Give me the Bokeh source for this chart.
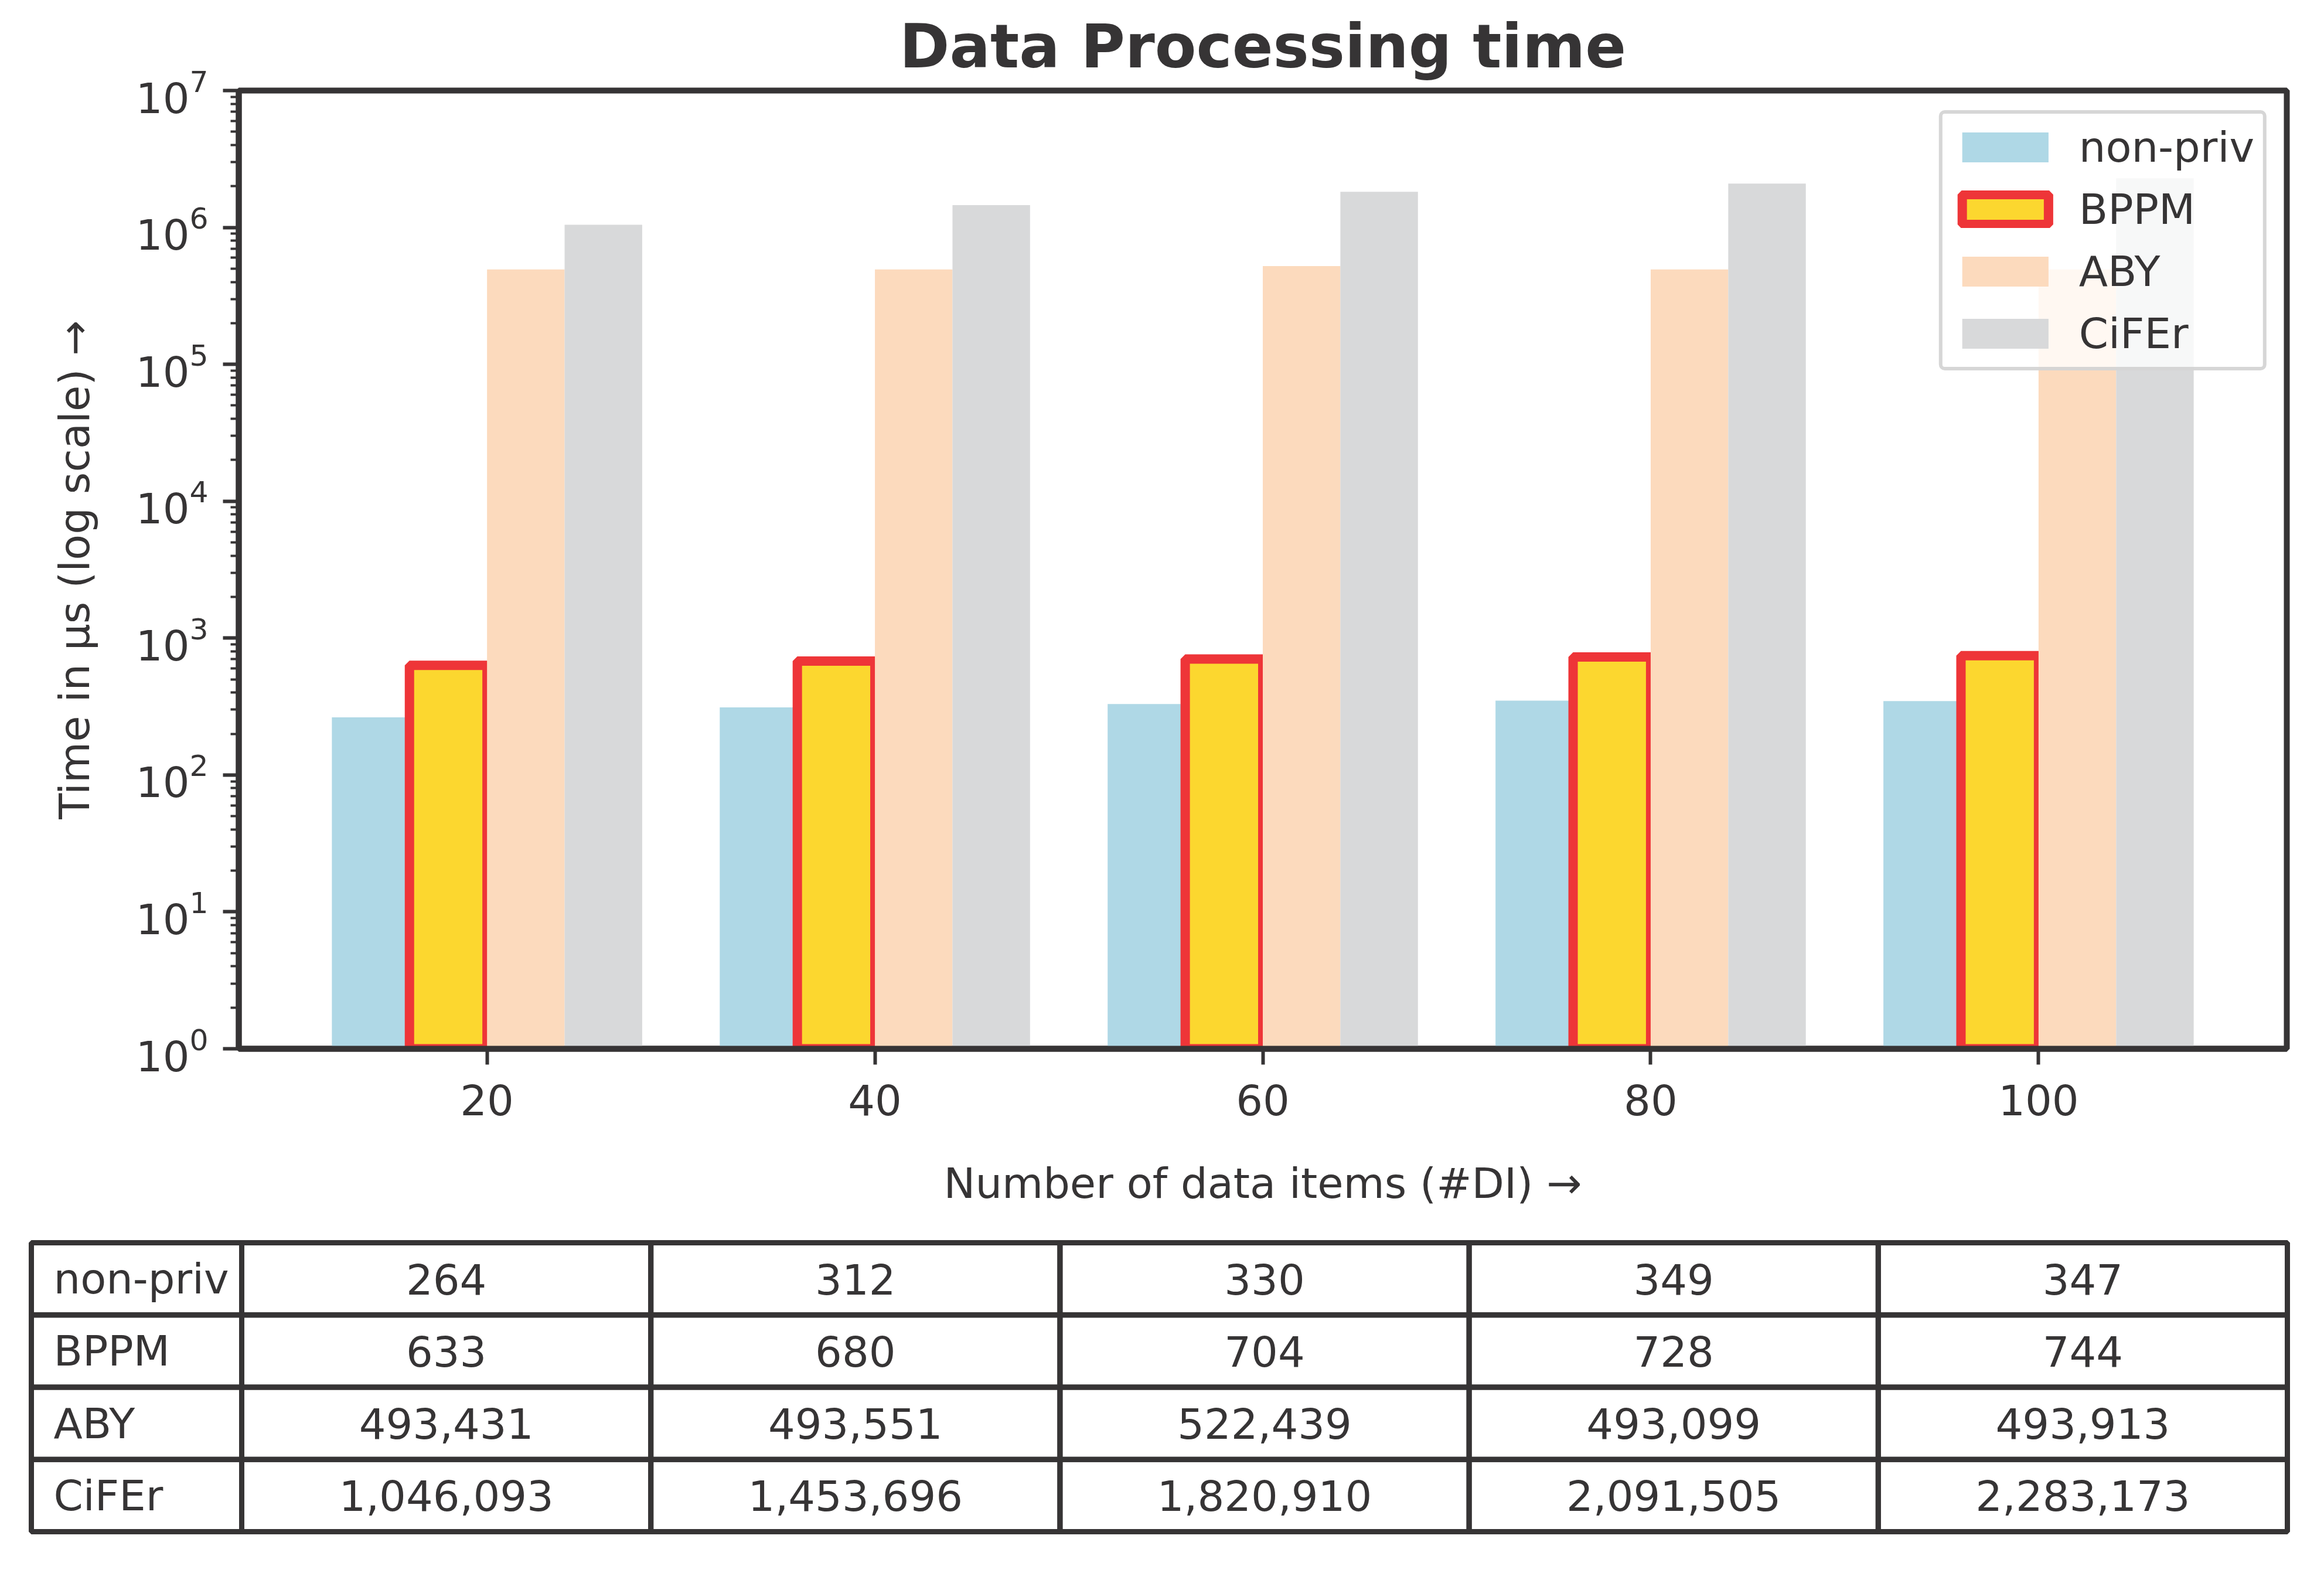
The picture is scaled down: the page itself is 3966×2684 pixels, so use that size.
from bokeh.plotting import figure
from bokeh.models import FixedTicker, LogTickFormatter, Range1d, ColumnDataSource, Legend
from bokeh.embed import file_html
from bokeh.resources import INLINE
from bokeh.core.properties import value

# ---------------- data ----------------
n_items = [20, 40, 60, 80, 100]
series_names = ["non-priv", "BPPM", "ABY", "CiFEr"]
non_priv = [264, 312, 330, 349, 347]
bppm = [633, 680, 704, 728, 744]
aby = [493431, 493551, 522439, 493099, 493913]
cifer = [1046093, 1453696, 1820910, 2091505, 2283173]
y_major_ticks = [1, 10, 100, 1000, 10000, 100000, 1000000, 10000000]
x_tick_labels = ["20", "40", "60", "80", "100"]

# ---------------- style ----------------
FONT = "DejaVu Sans"
INK = "#363435"
fills = ["#afd8e6", "#fcd72f", "#fcdabd", "#d8d9da"]
edges = [None, "#ee3538", None, None]
edge_w = [0, 16, 0, 0]
offsets = [-6, -2, 2, 6]
bar_w = 4

p = figure(width=3950, height=2090, y_axis_type="log",
           x_range=Range1d(7.2, 112.8), y_range=Range1d(1, 1e7),
           output_backend="svg", toolbar_location=None,
           min_border_left=407, min_border_right=48,
           min_border_top=144, min_border_bottom=301,
           title="Data Processing time")
p.background_fill_color = "white"
p.border_fill_color = "white"
p.grid.visible = False
p.outline_line_color = INK
p.outline_line_width = 10

p.title.text_font = FONT
p.title.text_font_size = "103px"
p.title.text_font_style = "bold"
p.title.text_color = INK
p.title.align = "center"
p.title.standoff = 32

series_vals = [non_priv, bppm, aby, cifer]
for name, vals, fc, ec, lw, off in zip(series_names, series_vals, fills, edges, edge_w, offsets):
    src = ColumnDataSource(dict(x=[n + off for n in n_items], top=vals))
    kw = dict(x="x", top="top", bottom=1, width=bar_w, source=src,
              fill_color=fc, legend_label=name)
    if ec is None:
        kw["line_color"] = None
    else:
        kw["line_color"] = ec
        kw["line_width"] = lw
    p.vbar(**kw)

minor = []
for t in y_major_ticks[:-1]:
    for m in range(2, 10):
        minor.append(t * m)

for ax in (p.xaxis[0], p.yaxis[0]):
    ax.axis_line_color = INK
    ax.axis_line_width = 10
    ax.major_tick_line_color = INK
    ax.major_tick_line_width = 6
    ax.major_tick_out = 27
    ax.major_tick_in = 0
    ax.minor_tick_line_color = INK
    ax.minor_tick_line_width = 4
    ax.minor_tick_out = 14
    ax.minor_tick_in = 0
    ax.major_label_text_font = FONT
    ax.major_label_text_font_size = "72px"
    ax.major_label_text_color = INK
    ax.axis_label_text_font = FONT
    ax.axis_label_text_font_size = "72px"
    ax.axis_label_text_font_style = "normal"
    ax.axis_label_text_color = INK

p.xaxis.ticker = FixedTicker(ticks=n_items, minor_ticks=[])
p.xaxis.major_label_overrides = {n: s for n, s in zip(n_items, x_tick_labels)}
p.xaxis.major_label_standoff = 33
p.xaxis.axis_label = "Number of data items (#DI) \u2192"
p.xaxis.axis_label_standoff = 71

p.yaxis.ticker = FixedTicker(ticks=y_major_ticks, minor_ticks=minor)
p.yaxis.formatter = LogTickFormatter()
p.yaxis.major_label_standoff = 25
p.yaxis.axis_label = "Time in \u00b5s (log scale) \u2192"
p.yaxis.axis_label_standoff = 60

lg = p.legend[0]
lg.location = "top_right"
lg.margin = 34
lg.padding = 15
lg.spacing = 22
lg.glyph_width = 184
lg.glyph_height = 64
lg.label_standoff = 34
lg.label_text_font = FONT
lg.label_text_font_size = "72px"
lg.label_text_color = INK
lg.background_fill_color = "white"
lg.background_fill_alpha = 0.8
lg.border_line_color = "#cccccc"
lg.border_line_alpha = 0.8
lg.border_line_width = 6
if "border_radius" in Legend.properties():
    lg.border_radius = 10

# ---------------- table ----------------
U = 698.2      # px per value column
RH = 123.25    # px per row
tbl = figure(width=3950, height=578,
             x_range=Range1d((0 - 412) / U, (3950 - 412) / U),
             y_range=Range1d(4 + 55 / RH, -30 / RH),
             output_backend="svg", toolbar_location=None,
             x_axis_location=None, y_axis_location=None,
             min_border=0, min_border_left=0, min_border_right=0,
             min_border_top=0, min_border_bottom=0)
tbl.grid.visible = False
tbl.outline_line_color = None
tbl.background_fill_color = "white"
tbl.border_fill_color = "white"

label_w = (417 - 58) / U
cx, cy, cw, txt, tx, align = [], [], [], [], [], []
for r, (name, vals) in enumerate(zip(series_names, series_vals)):
    cx.append(-label_w / 2); cy.append(r + 0.5); cw.append(label_w)
    txt.append(name); tx.append(-label_w + 38 / U); align.append("left")
    for c, v in enumerate(vals):
        cx.append(c + 0.5); cy.append(r + 0.5); cw.append(1.0)
        txt.append(f"{v:,}"); tx.append(c + 0.5); align.append("center")

csrc = ColumnDataSource(dict(x=cx, y=cy, w=cw, text=txt, tx=tx, align=align))
tbl.rect(x="x", y="y", width="w", height=1, source=csrc,
         fill_color=None, line_color=INK, line_width=9)
tbl.text(x="tx", y="y", text="text", source=csrc, text_align="align",
         text_baseline="middle", text_font=value(FONT),
         text_font_size="72px", text_color=INK)

open("out.html", "w").write(file_html([p, tbl], INLINE))
